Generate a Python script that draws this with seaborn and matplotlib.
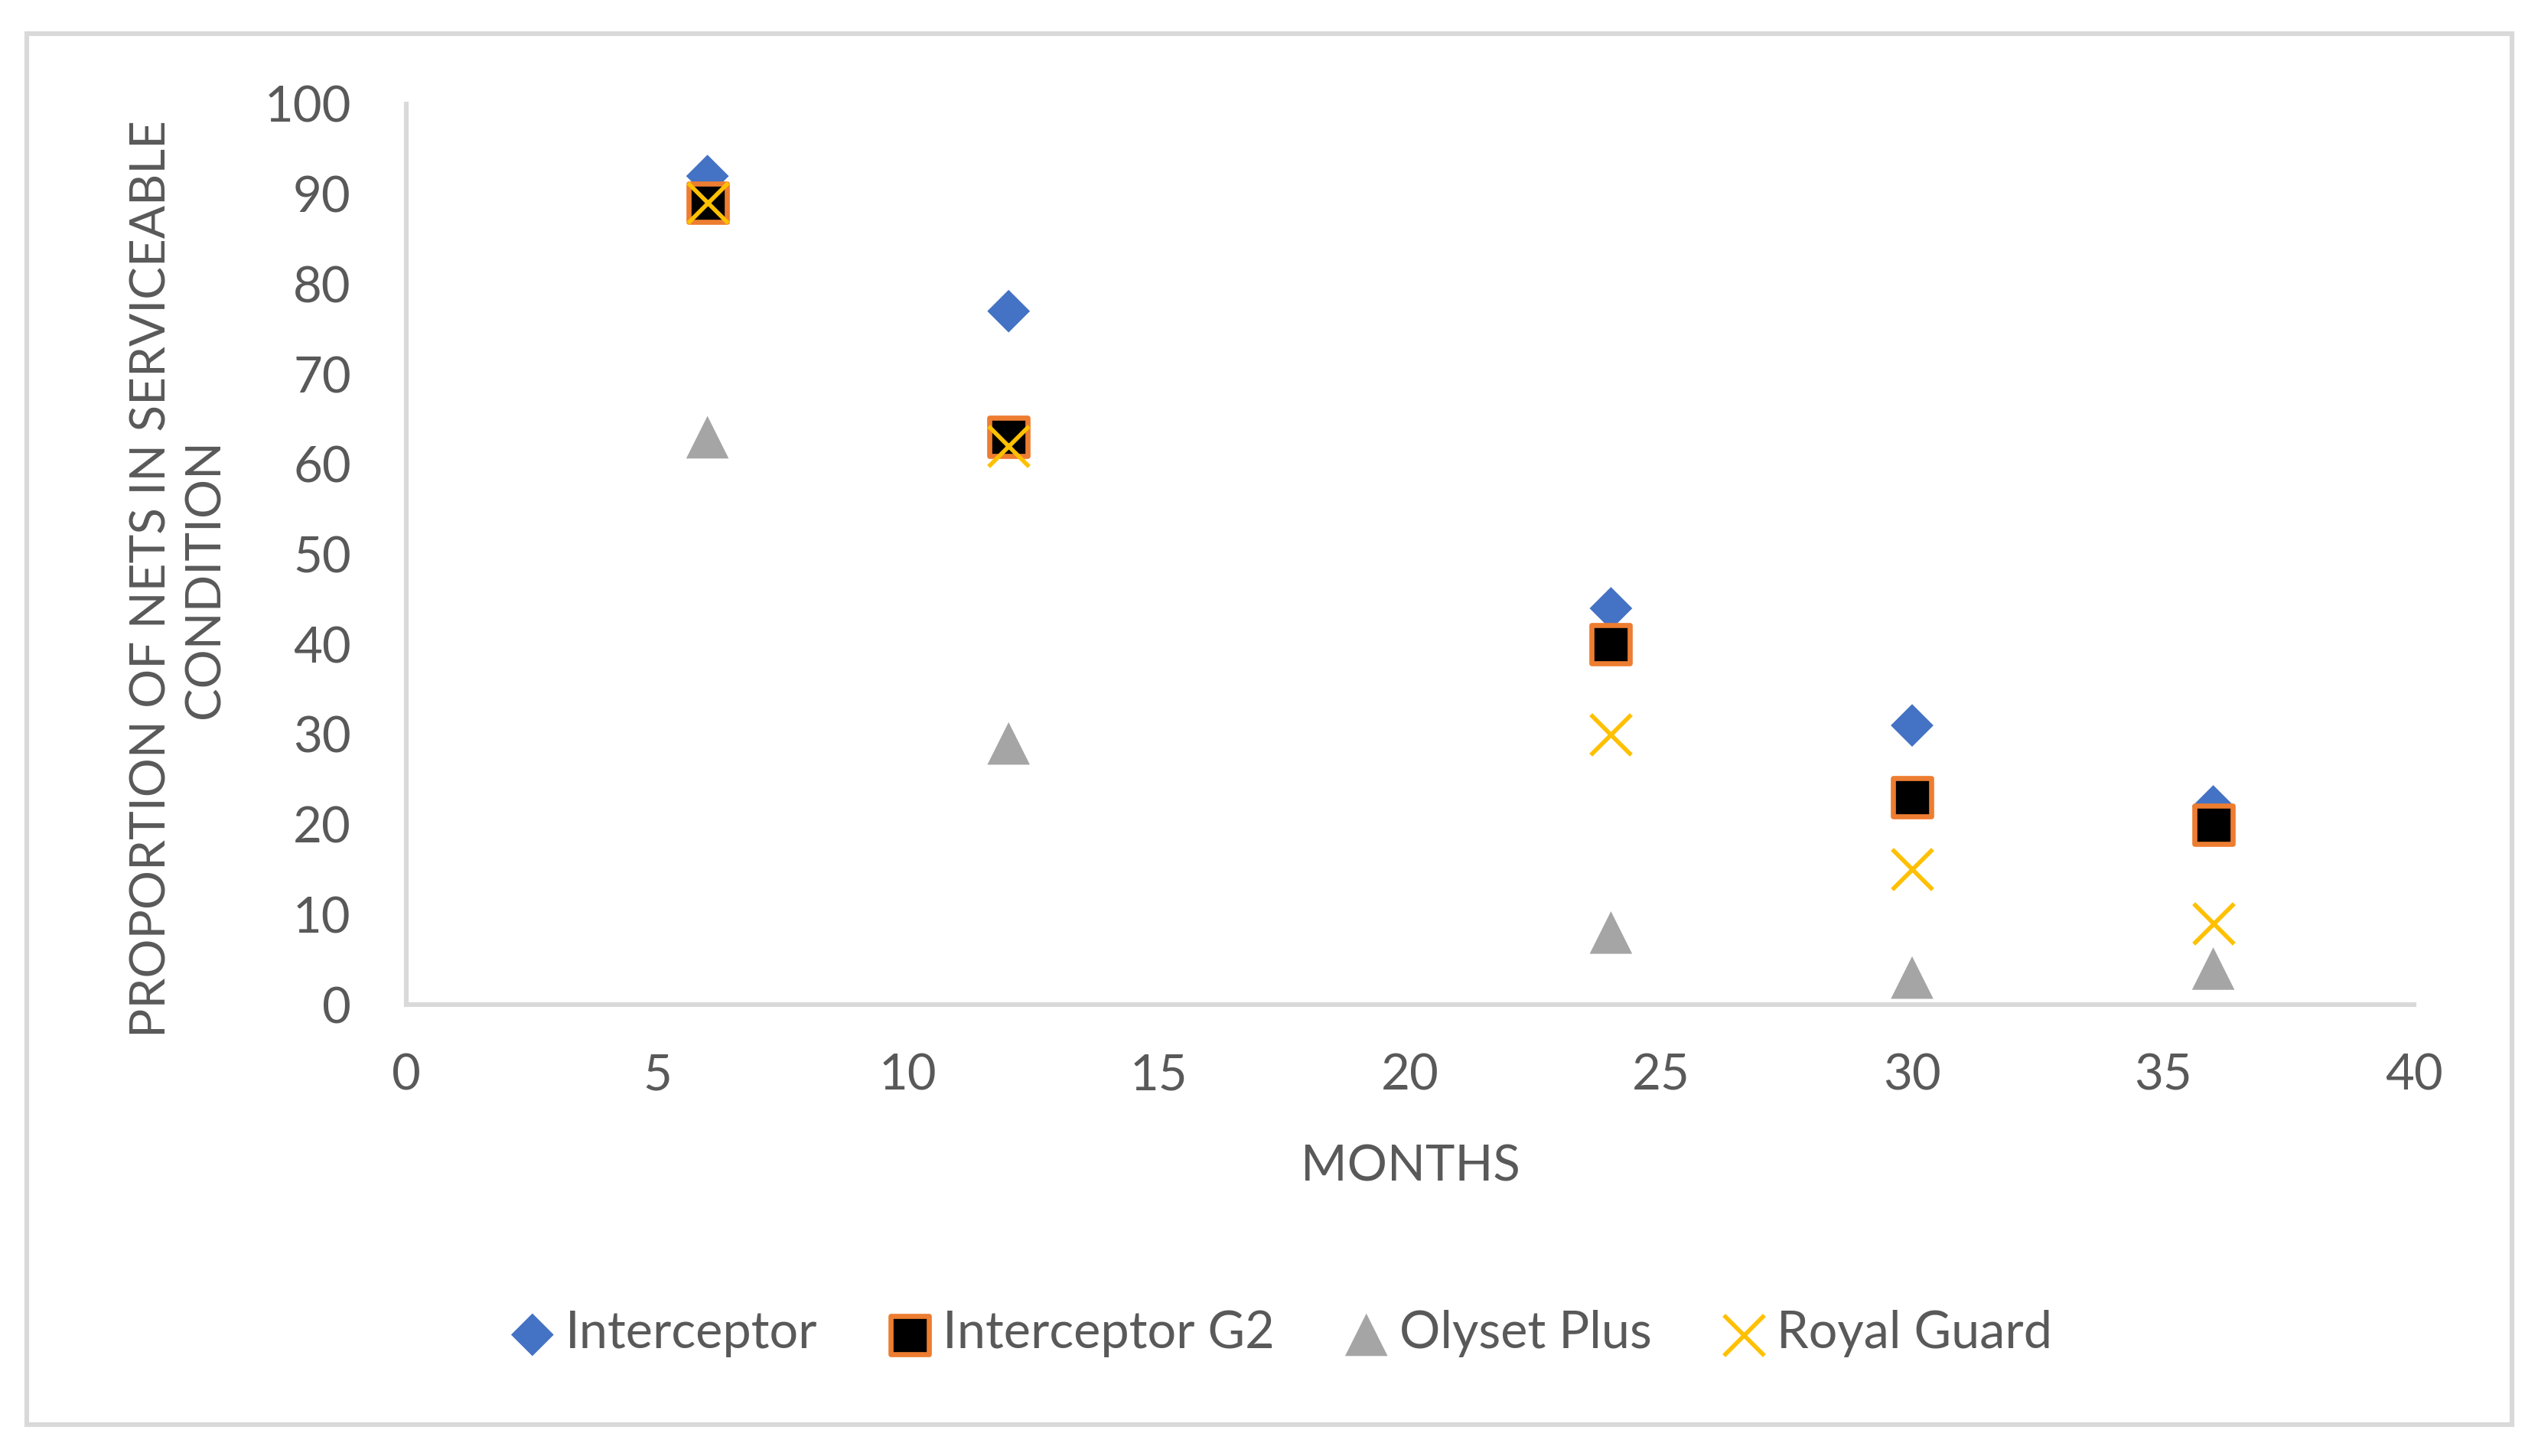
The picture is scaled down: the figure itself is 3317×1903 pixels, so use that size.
import matplotlib
matplotlib.use('Agg')
import matplotlib.pyplot as plt
import seaborn as sns
import pandas as pd
from matplotlib.patches import Rectangle

months = [6, 12, 24, 30, 36]
interceptor = [92, 77, 44, 31, 22]
interceptor_g2 = [89, 63, 40, 23, 20]
olyset_plus = [63, 29, 8, 3, 4]
royal_guard = [89, 62, 30, 15, 9]

x_ticks = [0, 5, 10, 15, 20, 25, 30, 35, 40]
y_ticks = [0, 10, 20, 30, 40, 50, 60, 70, 80, 90, 100]

TXT = '#595959'
GRID = '#d9d9d9'

sns.set_theme(style='white')
plt.rcParams['font.family'] = ['Lato', 'DejaVu Sans']

df = pd.DataFrame({
    'months': months * 4,
    'value': interceptor + interceptor_g2 + olyset_plus + royal_guard,
    'net': (['Interceptor'] * 5 + ['Interceptor G2'] * 5
            + ['Olyset Plus'] * 5 + ['Royal Guard'] * 5),
})

styles = {
    'Interceptor':    dict(marker='D', s=14.2 ** 2, color='#4472c4', edgecolor='none', linewidth=0),
    'Interceptor G2': dict(marker='s', s=18 ** 2, color='black', edgecolor='#ed7d31', linewidth=2.4),
    'Olyset Plus':    dict(marker='^', s=20 ** 2, color='#a5a5a5', edgecolor='none', linewidth=0),
    'Royal Guard':    dict(marker='x', s=19 ** 2, color='#ffc000', linewidth=2.0),
}

fig = plt.figure(figsize=(16.585, 9.515), dpi=200)
ax = fig.add_axes([531 / 3317, 1 - 1313 / 1903, (3155 - 531) / 3317, (1313 - 136) / 1903])

for name, st in styles.items():
    sub = df[df.net == name]
    sns.scatterplot(data=sub, x='months', y='value', ax=ax, label=name,
                    clip_on=False, zorder=3, **st)

ax.set_xlim(0, 40)
ax.set_ylim(0, 100)
ax.set_xticks(x_ticks)
ax.set_yticks(y_ticks)
ax.tick_params(axis='both', length=0, labelsize=23.5, labelcolor=TXT)
ax.tick_params(axis='y', pad=26)
ax.tick_params(axis='x', pad=23)

for side in ['top', 'right']:
    ax.spines[side].set_visible(False)
for side in ['left', 'bottom']:
    ax.spines[side].set_color(GRID)
    ax.spines[side].set_linewidth(2.2)

ax.set_xlabel('MONTHS', fontsize=23.5, color=TXT, va='center')
ax.xaxis.set_label_coords(0.5, -0.180)
ax.set_ylabel('PROPORTION OF NETS IN SERVICEABLE\nCONDITION', fontsize=23,
              color=TXT, va='center', linespacing=1.25)
ax.yaxis.set_label_coords(-0.1135, 0.4732)

leg = ax.legend(loc='center', bbox_to_anchor=(0.435, (1313 - 1743) / 1177),
                ncol=4, frameon=False, fontsize=24, handletextpad=0.15,
                columnspacing=1.3, handlelength=1.0, scatterpoints=1,
                borderaxespad=0)
for t in leg.get_texts():
    t.set_color(TXT)

# light outer border around the chart area
fig.patches.append(Rectangle((35 / 3317, 1 - 1862 / 1903), (3283 - 35) / 3317,
                             (1862 - 44) / 1903, transform=fig.transFigure,
                             fill=False, edgecolor=GRID, linewidth=2.2))

fig.savefig('out.png', dpi=200, facecolor='white')
